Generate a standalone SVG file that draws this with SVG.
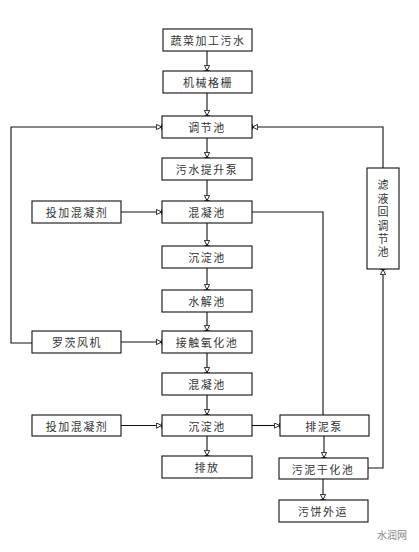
<svg xmlns="http://www.w3.org/2000/svg" width="419" height="552" viewBox="0 0 419 552">
<style>
.box{fill:#fff;stroke:#111;stroke-width:1.1}
.t{font-family:"Noto Sans CJK SC","Liberation Sans",sans-serif;font-size:11px;fill:#333;text-anchor:middle;dominant-baseline:central;letter-spacing:1.5px}
.v{font-family:"Noto Sans CJK SC","Liberation Sans",sans-serif;font-size:11px;fill:#333;text-anchor:middle;writing-mode:vertical-rl;letter-spacing:2.4px}
.c{fill:none;stroke:#111;stroke-width:1.1}
.wm{font-family:"Noto Sans CJK SC",sans-serif;font-size:10px;fill:#888}
</style>
<defs>
<marker id="ah" viewBox="0 0 8 8" refX="8" refY="4" markerWidth="6" markerHeight="6" markerUnits="userSpaceOnUse" orient="auto">
<path d="M0.5,0.5 L7.5,4 L0.5,7.5 z M7.5,0.5 L7.5,7.5" fill="#fff" stroke="#111" stroke-width="1.2"/>
</marker>
</defs>
<rect width="419" height="552" fill="#fff"/>
<g id="connectors">
<path class="c" d="M207,51 V71" marker-end="url(#ah)"/>
<path class="c" d="M207,93 V116" marker-end="url(#ah)"/>
<path class="c" d="M207,138 V158" marker-end="url(#ah)"/>
<path class="c" d="M207,180 V201" marker-end="url(#ah)"/>
<path class="c" d="M207,223 V246" marker-end="url(#ah)"/>
<path class="c" d="M207,268 V290" marker-end="url(#ah)"/>
<path class="c" d="M207,312 V331" marker-end="url(#ah)"/>
<path class="c" d="M207,353 V373" marker-end="url(#ah)"/>
<path class="c" d="M207,395 V415" marker-end="url(#ah)"/>
<path class="c" d="M207,436 V456" marker-end="url(#ah)"/>
<path class="c" d="M121,212 H162" marker-end="url(#ah)"/>
<path class="c" d="M121,342 H162" marker-end="url(#ah)"/>
<path class="c" d="M121,425.5 H162" marker-end="url(#ah)"/>
<path class="c" d="M252,425.5 H280" marker-end="url(#ah)"/>
<path class="c" d="M324,436 V458" marker-end="url(#ah)"/>
<path class="c" d="M323,479 V500" marker-end="url(#ah)"/>
<path class="c" d="M32,343 H11 V127 H162" marker-end="url(#ah)"/>
<path class="c" d="M383,168 V127 H252" marker-end="url(#ah)"/>
<path class="c" d="M252,212 H323 V415"/>
<path class="c" d="M368,468 H383 V269" marker-end="url(#ah)"/>
</g>
<g id="n1"><rect class="box" x="163" y="29" width="89" height="22"/><text class="t" x="208" y="40">蔬菜加工污水</text></g>
<g id="n2"><rect class="box" x="163" y="71" width="89" height="22"/><text class="t" x="208" y="82">机械格栅</text></g>
<g id="n3"><rect class="box" x="162" y="116" width="90" height="22"/><text class="t" x="207" y="127">调节池</text></g>
<g id="n4"><rect class="box" x="162" y="158" width="90" height="22"/><text class="t" x="207" y="169">污水提升泵</text></g>
<g id="n5"><rect class="box" x="162" y="201" width="90" height="22"/><text class="t" x="207" y="212">混凝池</text></g>
<g id="n6"><rect class="box" x="32" y="201" width="89" height="22"/><text class="t" x="77" y="212">投加混凝剂</text></g>
<g id="n7"><rect class="box" x="162" y="246" width="90" height="22"/><text class="t" x="207" y="257">沉淀池</text></g>
<g id="n8"><rect class="box" x="162" y="290" width="90" height="22"/><text class="t" x="207" y="301">水解池</text></g>
<g id="n9"><rect class="box" x="162" y="331" width="90" height="22"/><text class="t" x="207" y="342">接触氧化池</text></g>
<g id="n10"><rect class="box" x="32" y="331" width="89" height="22"/><text class="t" x="77" y="342">罗茨风机</text></g>
<g id="n11"><rect class="box" x="162" y="373" width="90" height="22"/><text class="t" x="207" y="384">混凝池</text></g>
<g id="n12"><rect class="box" x="162" y="415" width="90" height="21"/><text class="t" x="207" y="425.5">沉淀池</text></g>
<g id="n13"><rect class="box" x="32" y="415" width="89" height="21"/><text class="t" x="77" y="425.5">投加混凝剂</text></g>
<g id="n14"><rect class="box" x="162" y="456" width="90" height="22"/><text class="t" x="207" y="467">排放</text></g>
<g id="n15"><rect class="box" x="280" y="415" width="89" height="21"/><text class="t" x="324" y="425.5">排泥泵</text></g>
<g id="n16"><rect class="box" x="279" y="458" width="89" height="21"/><text class="t" x="323" y="468.5">污泥干化池</text></g>
<g id="n17"><rect class="box" x="279" y="500" width="89" height="22"/><text class="t" x="323" y="511">污饼外运</text></g>
<g id="n18"><rect class="box" x="367" y="168" width="32" height="101"/>
<text class="v" x="383" y="220">滤液回调节池</text></g>
<g id="watermark"><text class="wm" x="377" y="539">水润网</text></g>
</svg>
